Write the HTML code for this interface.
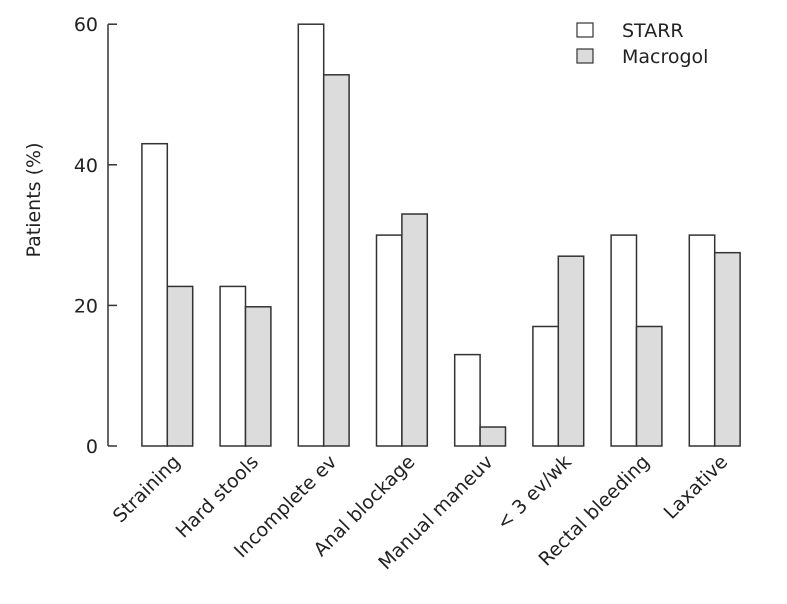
<!DOCTYPE html>
<html><head><meta charset="utf-8"><style>
body{margin:0;background:#fff}
text{font-family:"DejaVu Sans","Liberation Sans",sans-serif;fill:#222}
</style></head><body>
<svg id="c" width="787" height="599"></svg>
<script>
const categories=["Straining","Hard stools","Incomplete ev","Anal blockage","Manual maneuv","< 3 ev/wk","Rectal bleeding","Laxative"];
const starr=[43,22.7,60,30,13,17,30,30];
const macrogol=[22.7,19.8,52.8,33,2.7,27,17,27.5];
const yTicks=[0,20,40,60];
const svg=document.getElementById('c');
const NS='http://www.w3.org/2000/svg';
function y(v){return 446-v*7.03;}
function gx(i){return 167.3+i*78.2;}
function mk(t,a,name){const e=document.createElementNS(NS,t);for(const k in a)e.setAttribute(k,a[k]);


svg.appendChild(e);return e;}
mk('line',{x1:108,y1:y(60),x2:108,y2:y(0),stroke:'#333','stroke-width':1.5},'y-axis');
yTicks.forEach(t=>{
mk('line',{x1:108,x2:117,y1:y(t),y2:y(t),stroke:'#333','stroke-width':1.5},'y-tick');
const tx=mk('text',{x:98,y:y(t)+7,'text-anchor':'end','font-size':19},'y-tick-label');tx.textContent=t;});
const yt=mk('text',{x:40,y:200,'text-anchor':'middle','font-size':19,transform:'rotate(-90 40 200)'},'y-axis-title');yt.textContent='Patients (%)';
const bw=25.4;
categories.forEach((c,i)=>{
const cx=gx(i);
mk('rect',{x:cx-bw,y:y(starr[i]),width:bw,height:y(0)-y(starr[i]),fill:'#fff',stroke:'#333','stroke-width':1.5},'bar-starr');
mk('rect',{x:cx,y:y(macrogol[i]),width:bw,height:y(0)-y(macrogol[i]),fill:'#dcdcdc',stroke:'#333','stroke-width':1.5},'bar-macrogol');
const lx=cx+14,ly=463;
const t=mk('text',{x:lx,y:ly,'text-anchor':'end','font-size':19,transform:`rotate(-45 ${lx} ${ly})`},'x-tick-label');t.textContent=c;
});
mk('rect',{x:577,y:23,width:16,height:14,fill:'#fff',stroke:'#333','stroke-width':1.2},'legend-swatch-starr');
mk('rect',{x:577,y:49,width:16,height:14,fill:'#dcdcdc',stroke:'#333','stroke-width':1.2},'legend-swatch-macrogol');
let l1=mk('text',{x:622,y:37,'font-size':19},'legend-label-starr');l1.textContent='STARR';
let l2=mk('text',{x:622,y:63,'font-size':19},'legend-label-macrogol');l2.textContent='Macrogol';
</script>
</body></html>
